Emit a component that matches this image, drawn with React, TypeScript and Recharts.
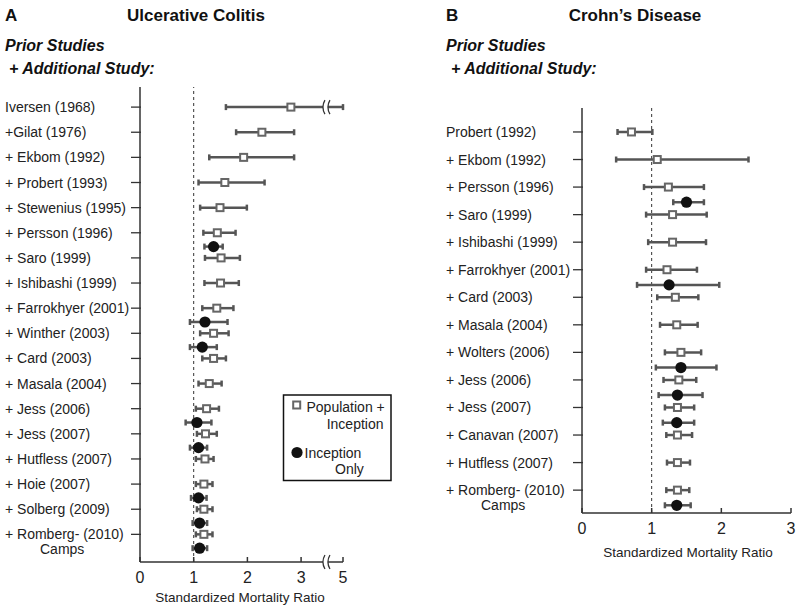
import { ScatterChart, Scatter, XAxis, YAxis, ErrorBar, ReferenceLine, ReferenceDot } from 'recharts'

// Ulcerative colitis (panel A)
const ucStudies = [
  'Iversen (1968)',
  '+Gilat (1976)',
  '+ Ekbom (1992)',
  '+ Probert (1993)',
  '+ Stewenius (1995)',
  '+ Persson (1996)',
  '+ Saro (1999)',
  '+ Ishibashi (1999)',
  '+ Farrokhyer (2001)',
  '+ Winther (2003)',
  '+ Card (2003)',
  '+ Masala (2004)',
  '+ Jess (2006)',
  '+ Jess (2007)',
  '+ Hutfless (2007)',
  '+ Hoie (2007)',
  '+ Solberg (2009)',
  '+ Romberg- (2010)\nCamps',
]
const ucPopSmr = [2.81, 2.27, 1.93, 1.58, 1.49, 1.44, 1.51, 1.5, 1.43, 1.37, 1.37, 1.29, 1.24, 1.22, 1.21, 1.19, 1.19, 1.19]
const ucPopLow = [1.6, 1.79, 1.29, 1.09, 1.12, 1.18, 1.21, 1.2, 1.16, 1.12, 1.16, 1.09, 1.04, 1.06, 1.04, 1.04, 1.06, 1.04]
const ucPopHigh = [5.0, 2.87, 2.87, 2.32, 1.99, 1.78, 1.86, 1.84, 1.74, 1.65, 1.6, 1.52, 1.47, 1.43, 1.37, 1.35, 1.35, 1.35]
const ucIncStudies = ['+ Persson (1996)', '+ Farrokhyer (2001)', '+ Winther (2003)', '+ Jess (2006)', '+ Jess (2007)', '+ Hoie (2007)', '+ Solberg (2009)', '+ Romberg- (2010)\nCamps']
const ucIncSmr = [1.37, 1.21, 1.16, 1.06, 1.09, 1.09, 1.11, 1.11]
const ucIncLow = [1.2, 0.93, 0.93, 0.85, 0.93, 0.95, 0.98, 0.98]
const ucIncHigh = [1.54, 1.63, 1.43, 1.33, 1.25, 1.24, 1.25, 1.25]
const ucTicks = [0, 1, 2, 3, 5]

// Crohn's disease (panel B)
const cdStudies = [
  'Probert (1992)',
  '+ Ekbom (1992)',
  '+ Persson (1996)',
  '+ Saro (1999)',
  '+ Ishibashi (1999)',
  '+ Farrokhyer (2001)',
  '+ Card (2003)',
  '+ Masala (2004)',
  '+ Wolters (2006)',
  '+ Jess (2006)',
  '+ Jess (2007)',
  '+ Canavan (2007)',
  '+ Hutfless (2007)',
  '+ Romberg- (2010)\nCamps',
]
const cdPopSmr = [0.71, 1.08, 1.24, 1.3, 1.3, 1.22, 1.34, 1.36, 1.42, 1.39, 1.37, 1.37, 1.37, 1.37]
const cdPopLow = [0.51, 0.49, 0.89, 0.92, 0.95, 0.92, 1.08, 1.12, 1.19, 1.17, 1.19, 1.21, 1.22, 1.21]
const cdPopHigh = [1.01, 2.39, 1.75, 1.79, 1.78, 1.65, 1.67, 1.66, 1.71, 1.64, 1.61, 1.58, 1.55, 1.54]
const cdIncStudies = ['+ Persson (1996)', '+ Farrokhyer (2001)', '+ Wolters (2006)', '+ Jess (2006)', '+ Jess (2007)', '+ Romberg- (2010)\nCamps']
const cdIncSmr = [1.5, 1.25, 1.42, 1.37, 1.36, 1.36]
const cdIncLow = [1.31, 0.79, 1.06, 1.1, 1.16, 1.19]
const cdIncHigh = [1.75, 1.97, 1.93, 1.73, 1.61, 1.56]
const cdTicks = [0, 1, 2, 3]

const FONT = "'Liberation Sans', Arial, Helvetica, sans-serif"
const AXIS = '#333'
const WHISKER = '#555'

// axis break for panel A: values above 3.5 are compressed
const BREAK = 3.5
const SQUEEZE = 0.187
const fwd = (v: number) => (v <= BREAK ? v : BREAK + (v - BREAK) * SQUEEZE)
const back = (v: number) => (v <= BREAK + 1e-9 ? v : BREAK + (v - BREAK) / SQUEEZE)

const INC_SHIFT = 0.55

function buildRows(studies: string[], names: string[], smr: number[], low: number[], high: number[], shift: number, map: (v: number) => number) {
  return names.map((name, i) => {
    const x = map(smr[i])
    return {
      name,
      row: studies.indexOf(name) + shift,
      x,
      err: [x - map(low[i]), map(high[i]) - x],
    }
  })
}

const SquareShape = (props: any) => (
  <rect x={props.cx - 3.5} y={props.cy - 3.5} width={7} height={7} fill="#fff" stroke="#666" strokeWidth={2} />
)
const DotShape = (props: any) => <circle cx={props.cx} cy={props.cy} r={5.6} fill="#111" />

const BreakMark = (props: any) => {
  const { cx, cy } = props
  const a = cx - 3
  const b = cx + 2
  return (
    <g>
      <path d={`M${a},${cy - 7} Q${a - 4},${cy} ${a},${cy + 7} L${b},${cy + 7} Q${b - 4},${cy} ${b},${cy - 7} Z`} fill="#fff" />
      <path d={`M${a},${cy - 7} Q${a - 4},${cy} ${a},${cy + 7}`} fill="none" stroke={AXIS} strokeWidth={1.3} />
      <path d={`M${b},${cy - 7} Q${b - 4},${cy} ${b},${cy + 7}`} fill="none" stroke={AXIS} strokeWidth={1.3} />
    </g>
  )
}

function makeYTick(studies: string[], labelX: number) {
  return (props: any) => {
    const { x, y, payload } = props
    const lines = (studies[payload.value] || '').split('\n')
    return (
      <g>
        <line x1={x - 9} x2={x + 1} y1={y} y2={y} stroke={AXIS} strokeWidth={1.3} />
        <text x={labelX} y={y} fontSize={14} fontFamily={FONT} fill="#222" dominantBaseline="central">
          {lines[0]}
        </text>
        {lines[1] && (
          <text x={labelX + 35} y={y + 15} fontSize={14} fontFamily={FONT} fill="#222" dominantBaseline="central">
            {lines[1]}
          </text>
        )}
      </g>
    )
  }
}

function makeXTick(format: (v: number) => string) {
  return (props: any) => {
    const { x, y, payload } = props
    return (
      <g>
        <line x1={x} x2={x} y1={y - 5} y2={y} stroke={AXIS} strokeWidth={1.5} />
        <text x={x} y={y + 15} fontSize={16} fontFamily={FONT} fill="#222" textAnchor="middle" dominantBaseline="central">
          {format(payload.value)}
        </text>
      </g>
    )
  }
}

const ucPop = buildRows(ucStudies, ucStudies, ucPopSmr, ucPopLow, ucPopHigh, 0, fwd)
const ucInc = buildRows(ucStudies, ucIncStudies, ucIncSmr, ucIncLow, ucIncHigh, INC_SHIFT, fwd)
const cdPop = buildRows(cdStudies, cdStudies, cdPopSmr, cdPopLow, cdPopHigh, 0, (v) => v)
const cdInc = buildRows(cdStudies, cdIncStudies, cdIncSmr, cdIncLow, cdIncHigh, INC_SHIFT, (v) => v)

const ucYMin = -0.8
const ucYMax = 18.1
const cdYMin = -0.87
const cdYMax = 13.83

function App() {
  return (
    <div style={{ position: 'absolute', left: 0, top: 0, width: 800, height: 608, background: '#fff', fontFamily: FONT }}>
      <div style={{ position: 'absolute', left: 0, top: 0 }}>
        <ScatterChart width={400} height={608} margin={{ top: 87, right: 57, bottom: 0, left: 0 }}>
          <XAxis
            type="number"
            dataKey="x"
            domain={[0, fwd(5)]}
            ticks={ucTicks.map(fwd)}
            interval={0}
            height={46}
            tickSize={0}
            tickMargin={0}
            tick={makeXTick((v) => String(Math.round(back(v))))}
            axisLine={{ stroke: AXIS, strokeWidth: 1.5 }}
            allowDataOverflow
          />
          <YAxis
            type="number"
            dataKey="row"
            domain={[ucYMin, ucYMax]}
            reversed
            ticks={ucStudies.map((_, i) => i)}
            interval={0}
            width={140}
            tickSize={0}
            tickMargin={0}
            tick={makeYTick(ucStudies, 5)}
            axisLine={{ stroke: AXIS, strokeWidth: 1.5 }}
            allowDataOverflow
          />
          <ReferenceLine x={1} stroke={AXIS} strokeDasharray="3 3" strokeWidth={1} />
          <Scatter data={ucPop} shape={SquareShape} isAnimationActive={false}>
            <ErrorBar dataKey="err" direction="x" width={3} stroke={WHISKER} strokeWidth={2.5} isAnimationActive={false} />
          </Scatter>
          <Scatter data={ucInc} shape={DotShape} isAnimationActive={false}>
            <ErrorBar dataKey="err" direction="x" width={3} stroke={WHISKER} strokeWidth={2.5} isAnimationActive={false} />
          </Scatter>
          <ReferenceDot x={BREAK} y={0} r={0} shape={BreakMark} ifOverflow="visible" />
          <ReferenceDot x={BREAK} y={ucYMax} r={0} shape={BreakMark} ifOverflow="visible" />
        </ScatterChart>
      </div>
      <div style={{ position: 'absolute', left: 400, top: 0 }}>
        <ScatterChart width={400} height={608} margin={{ top: 108, right: 9, bottom: 0, left: 0 }}>
          <XAxis
            type="number"
            dataKey="x"
            domain={[0, 3]}
            ticks={cdTicks}
            interval={0}
            height={95}
            tickSize={0}
            tickMargin={0}
            tick={makeXTick((v) => String(v))}
            axisLine={{ stroke: AXIS, strokeWidth: 1.5 }}
          />
          <YAxis
            type="number"
            dataKey="row"
            domain={[cdYMin, cdYMax]}
            reversed
            ticks={cdStudies.map((_, i) => i)}
            interval={0}
            width={182}
            tickSize={0}
            tickMargin={0}
            tick={makeYTick(cdStudies, 46)}
            axisLine={{ stroke: AXIS, strokeWidth: 1.5 }}
            allowDataOverflow
          />
          <ReferenceLine x={1} stroke={AXIS} strokeDasharray="3 3" strokeWidth={1} />
          <Scatter data={cdPop} shape={SquareShape} isAnimationActive={false}>
            <ErrorBar dataKey="err" direction="x" width={3} stroke={WHISKER} strokeWidth={2.5} isAnimationActive={false} />
          </Scatter>
          <Scatter data={cdInc} shape={DotShape} isAnimationActive={false}>
            <ErrorBar dataKey="err" direction="x" width={3} stroke={WHISKER} strokeWidth={2.5} isAnimationActive={false} />
          </Scatter>
        </ScatterChart>
      </div>
      <svg width={800} height={608} style={{ position: 'absolute', left: 0, top: 0, pointerEvents: 'none' }}>
        <g fontFamily={FONT} fill="#111">
          <text x={5} y={15} fontSize={17} fontWeight="bold" dominantBaseline="central">A</text>
          <text x={196} y={15} fontSize={17} fontWeight="bold" textAnchor="middle" dominantBaseline="central">Ulcerative Colitis</text>
          <text x={5} y={45} fontSize={16} fontWeight="bold" fontStyle="italic" dominantBaseline="central">Prior Studies</text>
          <text x={9} y={68} fontSize={16} fontWeight="bold" fontStyle="italic" dominantBaseline="central">+ Additional Study:</text>
          <text x={240} y={597} fontSize={13.5} textAnchor="middle" dominantBaseline="central" fill="#222">Standardized Mortality Ratio</text>

          <text x={446} y={15} fontSize={17} fontWeight="bold" dominantBaseline="central">B</text>
          <text x={635} y={15} fontSize={17} fontWeight="bold" textAnchor="middle" dominantBaseline="central">Crohn’s Disease</text>
          <text x={446} y={45} fontSize={16} fontWeight="bold" fontStyle="italic" dominantBaseline="central">Prior Studies</text>
          <text x={451} y={68} fontSize={16} fontWeight="bold" fontStyle="italic" dominantBaseline="central">+ Additional Study:</text>
          <text x={688} y={552} fontSize={13.5} textAnchor="middle" dominantBaseline="central" fill="#222">Standardized Mortality Ratio</text>
        </g>
        <g fontFamily={FONT} fontSize={14} fill="#222">
          <rect x={283.5} y={395} width={107.5} height={85.5} fill="#fff" stroke="#111" strokeWidth={1.5} />
          <rect x={293.2} y={401.5} width={7} height={7} fill="#fff" stroke="#666" strokeWidth={2} />
          <text x={306.5} y={407} dominantBaseline="central">Population +</text>
          <text x={383.5} y={423.5} textAnchor="end" dominantBaseline="central">Inception</text>
          <circle cx={297} cy={452.5} r={5.6} fill="#111" />
          <text x={304.5} y={452.5} dominantBaseline="central">Inception</text>
          <text x={335} y={469} dominantBaseline="central">Only</text>
        </g>
      </svg>
    </div>
  )
}

export default App
